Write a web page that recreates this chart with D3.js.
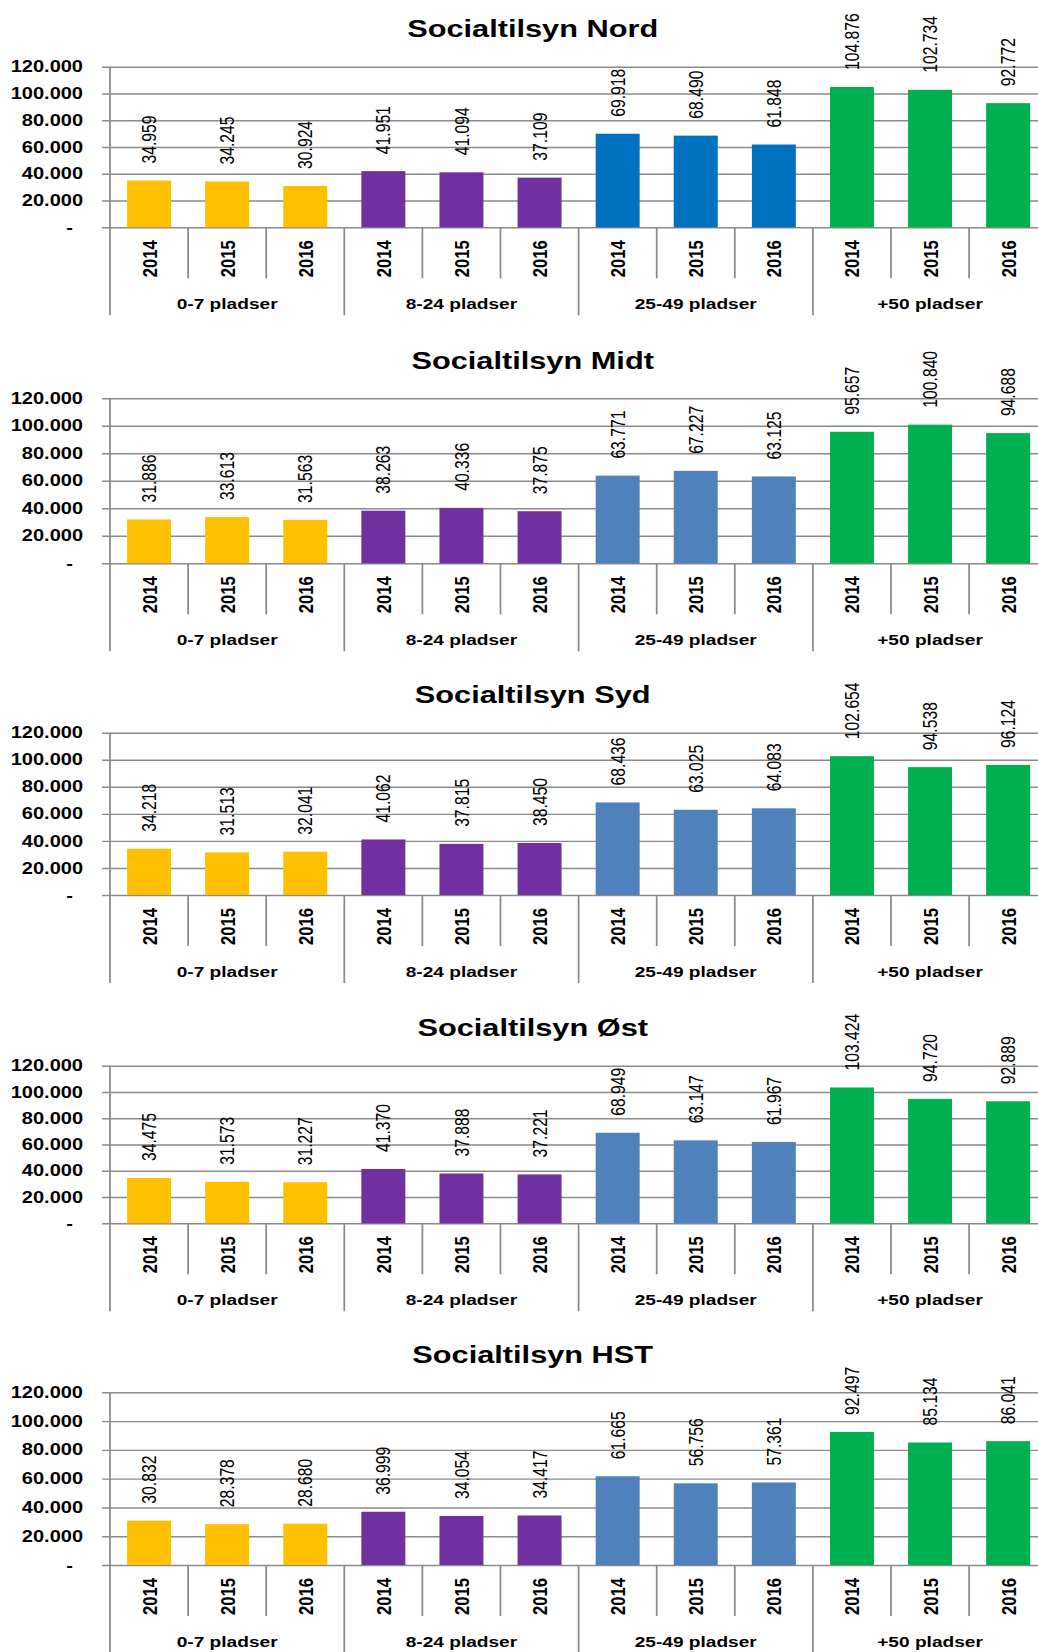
<!DOCTYPE html>
<html>
<head>
<meta charset="utf-8">
<script src="https://cdn.jsdelivr.net/npm/d3@7"></script>
<style>
  html, body { margin: 0; padding: 0; background: #fff; }
  svg { display: block; }
</style>
</head>
<body>
<svg id="chart"></svg>
<script>
// ---- data ----
const years = ["2014", "2015", "2016"];
const groups = ["0-7 pladser", "8-24 pladser", "25-49 pladser", "+50 pladser"];
const yTicks = [0, 20000, 40000, 60000, 80000, 100000, 120000];
const titles = ["Socialtilsyn Nord", "Socialtilsyn Midt", "Socialtilsyn Syd", "Socialtilsyn Øst", "Socialtilsyn HST"];

// values per group, 2014/2015/2016
const nordValues = [34959, 34245, 30924, 41951, 41094, 37109, 69918, 68490, 61848, 104876, 102734, 92772];
const midtValues = [31886, 33613, 31563, 38263, 40336, 37875, 63771, 67227, 63125, 95657, 100840, 94688];
const sydValues  = [34218, 31513, 32041, 41062, 37815, 38450, 68436, 63025, 64083, 102654, 94538, 96124];
const ostValues  = [34475, 31573, 31227, 41370, 37888, 37221, 68949, 63147, 61967, 103424, 94720, 92889];
const hstValues  = [30832, 28378, 28680, 36999, 34054, 34417, 61665, 56756, 57361, 92497, 85134, 86041];
const panelValues = [nordValues, midtValues, sydValues, ostValues, hstValues];

// ---- styles ----
const groupColors = ["#FFC000", "#7030A0", "#4F81BD", "#00B050"];
const nordBlue = "#0070C0";
const gridColor = "#8a8a8a";
const FONT = "'Liberation Sans', Arial, sans-serif";

// ---- layout ----
const W = 1038, H = 1652;
const SX = 1.25;              // the drawing is stretched horizontally
const VW = W / SX;
const plotLeft = 110 / SX;
const step = 78.1 / SX;
const plotRight = plotLeft + step * 12;
const tickLeft = 102 / SX;
// grid top / zero line of each panel (px)
const panelFrames = [[66.7, 227.3], [398.3, 563.3], [732.7, 895], [1065.7, 1223.3], [1392.3, 1565]];

const dk = d3.formatLocale({ decimal: ",", thousands: ".", grouping: [3], currency: ["", " kr"] });
const fmt = dk.format(",d");

const svg = d3.select("#chart")
  .attr("width", W).attr("height", H)
  .attr("viewBox", `0 0 ${VW} ${H}`)
  .attr("preserveAspectRatio", "none");

const keys = [];
groups.forEach(g => years.forEach(yr => keys.push(g + "|" + yr)));

const x = d3.scaleBand()
  .domain(keys)
  .range([plotLeft, plotRight])
  .paddingInner(0.437)
  .paddingOuter(0.2185);

panelValues.forEach((vals, p) => {
  const [top, zero] = panelFrames[p];
  const y = d3.scaleLinear().domain([0, 120000]).range([zero, top]);
  const g = svg.append("g").attr("class", "panel");

  // title
  g.append("text")
    .attr("x", 532.7 / SX).attr("y", top - 29.7)
    .attr("text-anchor", "middle")
    .attr("font-family", FONT).attr("font-weight", "bold").attr("font-size", 24.6)
    .attr("fill", "#000")
    .text(titles[p]);

  // value axis with gridlines
  const yAxis = d3.axisLeft(y)
    .tickValues(yTicks)
    .tickSize(-(VW - tickLeft))
    .tickPadding(15.2)
    .tickFormat(d => d === 0 ? "-" : fmt(d));
  const ya = g.append("g").attr("transform", `translate(${tickLeft},0)`).call(yAxis);
  ya.select(".domain").remove();
  ya.selectAll(".tick line").attr("stroke", gridColor).attr("stroke-width", 1.4);
  ya.selectAll(".tick text")
    .attr("font-family", FONT).attr("font-weight", "bold").attr("font-size", 16)
    .attr("fill", "#000");
  ya.selectAll(".tick").filter(d => d === 0).select("text").attr("dx", -8);

  // vertical axis line
  g.append("line")
    .attr("x1", plotLeft).attr("x2", plotLeft)
    .attr("y1", top).attr("y2", zero + 88)
    .attr("stroke", gridColor).attr("stroke-width", 1.4);

  // category separators: short between years, long between groups
  d3.range(1, 12).forEach(i => {
    const xx = plotLeft + i * step;
    const major = i % 3 === 0;
    g.append("line")
      .attr("x1", xx).attr("x2", xx)
      .attr("y1", zero).attr("y2", zero + (major ? 88 : 51))
      .attr("stroke", gridColor).attr("stroke-width", 1.4);
  });

  // bars
  const data = keys.map((k, i) => ({ key: k, value: vals[i], gi: Math.floor(i / 3), year: years[i % 3] }));
  g.selectAll("rect.bar").data(data).enter().append("rect")
    .attr("class", "bar")
    .attr("x", d => x(d.key))
    .attr("y", d => y(d.value))
    .attr("width", x.bandwidth())
    .attr("height", d => zero - y(d.value))
    .attr("fill", d => (p === 0 && d.gi === 2) ? nordBlue : groupColors[d.gi]);

  // value labels
  g.selectAll("text.val").data(data).enter().append("text")
    .attr("class", "val")
    .attr("transform", d => `translate(${x(d.key) + x.bandwidth() / 2},${y(d.value) - 17}) rotate(-90)`)
    .attr("dy", "0.36em")
    .attr("text-anchor", "start")
    .attr("font-family", FONT).attr("font-size", 15.7)
    .attr("fill", "#000")
    .text(d => fmt(d.value));

  // year labels
  g.selectAll("text.yr").data(data).enter().append("text")
    .attr("class", "yr")
    .attr("transform", d => `translate(${x(d.key) + x.bandwidth() / 2},${zero + 13}) rotate(-90)`)
    .attr("dy", "0.36em")
    .attr("text-anchor", "end")
    .attr("font-family", FONT).attr("font-weight", "bold").attr("font-size", 16.6)
    .attr("fill", "#000")
    .text(d => d.year);

  // group labels
  g.selectAll("text.grp").data(groups).enter().append("text")
    .attr("class", "grp")
    .attr("x", (d, i) => plotLeft + (i * 3 + 1.5) * step)
    .attr("y", zero + 82)
    .attr("text-anchor", "middle")
    .attr("font-family", FONT).attr("font-weight", "bold").attr("font-size", 15.3)
    .attr("fill", "#000")
    .text(d => d);
});
</script>
</body>
</html>
